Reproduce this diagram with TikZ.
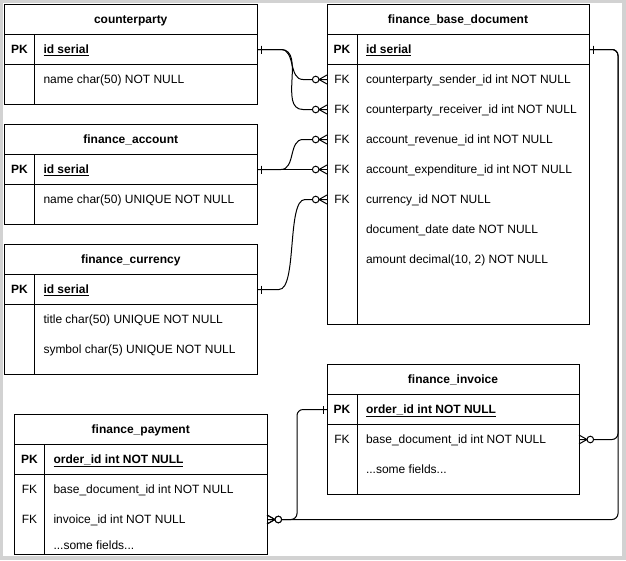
\documentclass[tikz,border=0pt]{standalone}
\usepackage{fontspec}
\setmainfont{Liberation Sans}
\usetikzlibrary{calc,decorations.markings}

\definecolor{Frame}{HTML}{D2D2D2}

\begin{document}
\begin{tikzpicture}[x=1pt, y=-1pt, line width=1pt, font=\fontsize{12}{14}\selectfont,
  tbl/.style={draw, anchor=north west, inner sep=0, outer sep=0},
  tblname/.style={font=\fontsize{12}{14}\selectfont\bfseries, inner sep=0, text height=8.6pt, text depth=0pt},
  pktxt/.style={font=\fontsize{12}{14}\selectfont\bfseries, inner sep=0, text height=8.6pt, text depth=0pt},
  fktxt/.style={inner sep=0, text height=8.6pt, text depth=0pt},
  fieldtxt/.style={anchor=west, inner sep=0, text height=8.6pt, text depth=0pt},
  pkfield/.style={fieldtxt, font=\fontsize{12}{14}\selectfont\bfseries},
  conn/.style={black, line width=1pt},
  one start/.style={postaction={decorate, decoration={markings,
      mark=at position 0 with {\draw[sharp corners] (4,-4) -- (4,4);}}}},
  many end/.style={postaction={decorate, decoration={markings,
      mark=at position -0.01pt with {\draw[sharp corners] (0,4.5) -- (-8,0) -- (0,-4.5);
        \draw[sharp corners, fill=white] (-11.3,0) circle (3.3pt);}}}}]

 \useasboundingbox (0,0) rectangle (626,560);
 \fill[Frame] (0,0) rectangle (626,560);
 \fill[white] (3,3) rectangle (622,556);

 %%%%%%%%%% counterparty %%%%%%%%%%
 \node[tbl, minimum width=252.5pt, minimum height=99.5pt] (cp) at (4.5,4.5) {};
 \draw (4.5,34.5) -- (257,34.5) (4.5,64.5) -- (257,64.5) (34.5,34.5) -- (34.5,104);
 \node[tblname] (cp-t) at (130.75,19.5) {counterparty};
 \node[pktxt] (cp-pk) at (19.5,49.5) {PK};
 \node[pkfield] (cp-id) at (43,49.5) {\underline{id serial}};
 \node[fieldtxt] (cp-name) at (43,79.5) {name char(50) NOT NULL};

 %%%%%%%%%% finance_account %%%%%%%%%%
 \node[tbl, minimum width=252.5pt, minimum height=99.5pt] (acc) at (4.5,124.5) {};
 \draw (4.5,154.5) -- (257,154.5) (4.5,184.5) -- (257,184.5) (34.5,154.5) -- (34.5,224);
 \node[tblname] (acc-t) at (130.75,139.5) {finance\_account};
 \node[pktxt] (acc-pk) at (19.5,169.5) {PK};
 \node[pkfield] (acc-id) at (43,169.5) {\underline{id serial}};
 \node[fieldtxt] (acc-name) at (43,199.5) {name char(50) UNIQUE NOT NULL};

 %%%%%%%%%% finance_currency %%%%%%%%%%
 \node[tbl, minimum width=252.5pt, minimum height=129.5pt] (cur) at (4.5,244.5) {};
 \draw (4.5,274.5) -- (257,274.5) (4.5,304.5) -- (257,304.5) (34.5,274.5) -- (34.5,374);
 \node[tblname] (cur-t) at (130.75,259.5) {finance\_currency};
 \node[pktxt] (cur-pk) at (19.5,289.5) {PK};
 \node[pkfield] (cur-id) at (43,289.5) {\underline{id serial}};
 \node[fieldtxt] (cur-title) at (43,319.5) {title char(50) UNIQUE NOT NULL};
 \node[fieldtxt] (cur-symbol) at (43,349.5) {symbol char(5) UNIQUE NOT NULL};

 %%%%%%%%%% finance_base_document %%%%%%%%%%
 \node[tbl, minimum width=262pt, minimum height=319.5pt] (bd) at (327,4.5) {};
 \draw (327,34.5) -- (589,34.5) (327,64.5) -- (589,64.5) (357,34.5) -- (357,324);
 \node[tblname] (bd-t) at (458,19.5) {finance\_base\_document};
 \node[pktxt] (bd-pk) at (342,49.5) {PK};
 \node[pkfield] (bd-id) at (365.5,49.5) {\underline{id serial}};
 \node[fktxt] (bd-fk1) at (342,79.5) {FK};
 \node[fieldtxt] (bd-sender) at (365.5,79.5) {counterparty\_sender\_id int NOT NULL};
 \node[fktxt] (bd-fk2) at (342,109.5) {FK};
 \node[fieldtxt] (bd-receiver) at (365.5,109.5) {counterparty\_receiver\_id int NOT NULL};
 \node[fktxt] (bd-fk3) at (342,139.5) {FK};
 \node[fieldtxt] (bd-revenue) at (365.5,139.5) {account\_revenue\_id int NOT NULL};
 \node[fktxt] (bd-fk4) at (342,169.5) {FK};
 \node[fieldtxt] (bd-expend) at (365.5,169.5) {account\_expenditure\_id int NOT NULL};
 \node[fktxt] (bd-fk5) at (342,199.5) {FK};
 \node[fieldtxt] (bd-currency) at (365.5,199.5) {currency\_id NOT NULL};
 \node[fieldtxt] (bd-date) at (365.5,229.5) {document\_date date NOT NULL};
 \node[fieldtxt] (bd-amount) at (365.5,259.5) {amount decimal(10, 2) NOT NULL};

 %%%%%%%%%% finance_invoice %%%%%%%%%%
 \node[tbl, minimum width=252pt, minimum height=129.5pt] (inv) at (327,364.5) {};
 \draw (327,394.5) -- (579,394.5) (327,424.5) -- (579,424.5) (357,394.5) -- (357,494);
 \node[tblname] (inv-t) at (453,379.5) {finance\_invoice};
 \node[pktxt] (inv-pk) at (342,409.5) {PK};
 \node[pkfield] (inv-id) at (365.5,409.5) {\underline{order\_id int NOT NULL}};
 \node[fktxt] (inv-fk) at (342,439.5) {FK};
 \node[fieldtxt] (inv-doc) at (365.5,439.5) {base\_document\_id int NOT NULL};
 \node[fieldtxt] (inv-more) at (365.5,469.5) {...some fields...};

 %%%%%%%%%% finance_payment %%%%%%%%%%
 \node[tbl, minimum width=252.5pt, minimum height=140pt] (pay) at (14.5,414.5) {};
 \draw (14.5,444.5) -- (267,444.5) (14.5,474.5) -- (267,474.5) (44.5,444.5) -- (44.5,554.5);
 \node[tblname] (pay-t) at (140.75,429.5) {finance\_payment};
 \node[pktxt] (pay-pk) at (29.5,459.5) {PK};
 \node[pkfield] (pay-id) at (53,459.5) {\underline{order\_id int NOT NULL}};
 \node[fktxt] (pay-fk1) at (29.5,489.5) {FK};
 \node[fieldtxt] (pay-doc) at (53,489.5) {base\_document\_id int NOT NULL};
 \node[fktxt] (pay-fk2) at (29.5,519.5) {FK};
 \node[fieldtxt] (pay-invoice) at (53,519.5) {invoice\_id int NOT NULL};
 \node[fieldtxt] (pay-more) at (53,545) {...some fields...};

 %%%%%%%%%% Relations %%%%%%%%%%
 \draw[conn, one start, many end] (cp-pk -| cp.east) -- ++(24,0) to[out=0, in=180] ($(bd-fk1 -| bd.west)+(-24,0)$) -- (bd-fk1 -| bd.west);
 \draw[conn, one start, many end] (cp-pk -| cp.east) -- ++(24,0) to[out=0, in=180] ($(bd-fk2 -| bd.west)+(-24,0)$) -- (bd-fk2 -| bd.west);
 \draw[conn, one start, many end] (acc-pk -| acc.east) -- ++(24,0) to[out=0, in=180] ($(bd-fk3 -| bd.west)+(-24,0)$) -- (bd-fk3 -| bd.west);
 \draw[conn, one start, many end] (acc-pk -| acc.east) -- (bd-fk4 -| bd.west);
 \draw[conn, one start, many end] (cur-pk -| cur.east) -- ++(22,0) to[out=0, in=180, looseness=0.5] ($(bd-fk5 -| bd.west)+(-22,0)$) -- (bd-fk5 -| bd.west);

 \draw[conn, rounded corners=6pt, one start, many end] (bd-pk -| bd.east) -| ($(inv-fk -| bd.east)+(29,0)$) -- (inv-fk -| inv.east);
 \draw[conn, rounded corners=6pt, one start, many end] (bd-pk -| bd.east) -| ($(pay-fk2 -| bd.east)+(29,0)$) -- (pay-fk2 -| pay.east);
 \draw[conn, rounded corners=6pt, one start, many end] (inv-pk -| inv.west) -| ($(pay-fk2 -| pay.east)+(30,0)$) -- (pay-fk2 -| pay.east);

\end{tikzpicture}
\end{document}
